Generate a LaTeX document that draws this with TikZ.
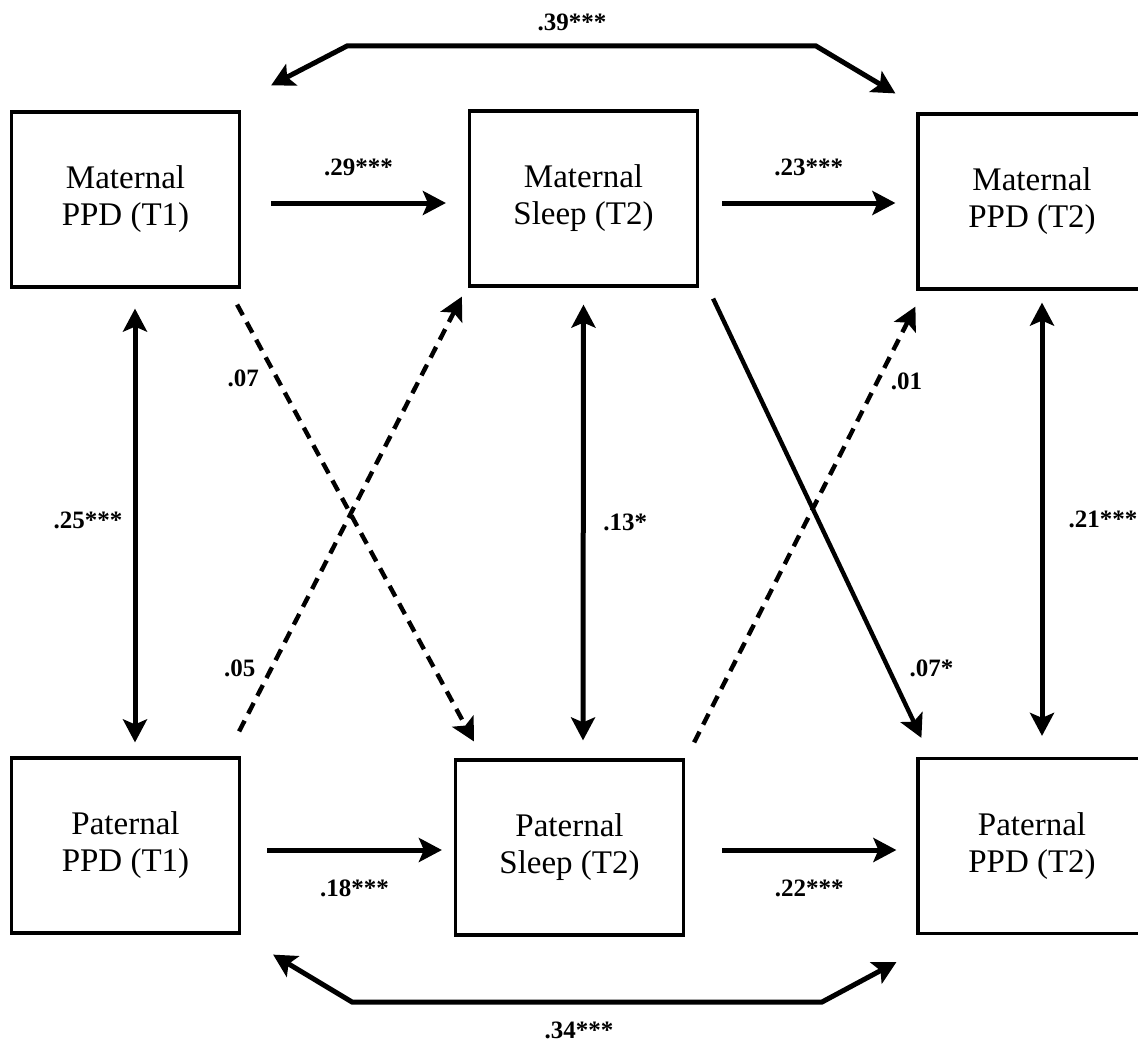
\documentclass[tikz,border=0pt]{standalone}
\usepackage{fontspec}
\setmainfont{Liberation Serif}
\usetikzlibrary{arrows.meta}

\tikzset{
  var/.style={draw, line width=1.6pt, minimum width=114pt, minimum height=87.5pt,
    inner sep=0pt, align=center, font=\fontsize{16.5}{18.5}\selectfont},
  coef/.style={font=\bfseries\fontsize{12.5}{14}\selectfont},
  link/.style={line width=2.5pt},
  cross/.style={line width=2.2pt},
  ns/.style={dash pattern=on 6pt off 4pt}
}

\begin{document}
\begin{tikzpicture}[x=0.5pt, y=-0.5pt, >={Stealth[length=11.5pt,width=12pt,inset=2.5pt]}]
\path[use as bounding box, clip] (0,0) rectangle (1138,1043);

\node[var] (mp1) at (125.5,199.5) {Maternal\\PPD (T1)};
\node[var] (ms) at (583.5,198.5) {Maternal\\Sleep (T2)};
\node[var] (mp2) at (1032,201.5) {Maternal\\PPD (T2)};
\node[var] (pp1) at (125.5,845.5) {Paternal\\PPD (T1)};
\node[var] (ps) at (569.5,847.5) {Paternal\\Sleep (T2)};
\node[var] (pp2) at (1032,846) {Paternal\\PPD (T2)};

\coordinate (tl) at (347,46);
\coordinate (tr) at (816,46);
\coordinate (bl) at (352,1002);
\coordinate (br) at (822,1002);

% stability and mediation paths
\draw[->, link] ([shift={(30,3.5)}]mp1.east) -- node[coef, yshift=18pt] {.29***} ([shift={(-22,4.5)}]ms.west);
\draw[->, link] ([shift={(23,4.5)}]ms.east) -- node[coef, yshift=18pt] {.23***} ([shift={(-21,1.5)}]mp2.west);
\draw[->, link] ([shift={(26,4.5)}]pp1.east) -- node[coef, yshift=-19pt] {.18***} ([shift={(-12,2.5)}]ps.west);
\draw[->, link] ([shift={(37,2.5)}]ps.east) -- node[coef, yshift=-19pt] {.22***} ([shift={(-20,4)}]pp2.west);

% covariances
\draw[<->, link] ([shift={(9.5,20)}]mp1.south) -- node[coef, xshift=-23.5pt, yshift=2.5pt] {.25***} ([shift={(9.5,-14)}]pp1.north);
\draw[<->, link] ([shift={(0,17)}]ms.south) -- node[coef, xshift=21pt] {.13*} ([shift={(13.5,-18)}]ps.north);
\draw[<->, link] ([shift={(10,12)}]mp2.south) -- node[coef, xshift=30.5pt] {.21***} ([shift={(10,-21)}]pp2.north);
\draw[<->, link] ([shift={(30,-25)}]mp1.north east) -- (tl) -- node[coef, xshift=-4.75pt, yshift=12pt] {.39***} (tr) -- ([shift={(-21,-19)}]mp2.north west);
\draw[<->, link] ([shift={(32,20)}]pp1.south east) -- (bl) -- node[coef, xshift=-4pt, yshift=-14pt] {.34***} (br) -- ([shift={(-20,27)}]pp2.south west);

% cross-partner paths
\draw[->, cross, ns] ([shift={(-4,16)}]mp1.south east) -- node[coef, pos=0.17, xshift=-17pt] {.07} ([shift={(20,-17)}]ps.north west);
\draw[->, cross, ns] ([shift={(-2,-25)}]pp1.north east) -- node[coef, pos=0.144, xshift=-15.75pt] {.05} ([shift={(-6,9)}]ms.south west);
\draw[->, cross, ns] ([shift={(9,-16)}]ps.north east) -- node[coef, pos=0.829, xshift=14.5pt] {.01} ([shift={(-1,16)}]mp2.south west);
\draw[->, cross] ([shift={(14,11)}]ms.south east) -- node[coef, pos=0.842, xshift=21.5pt] {.07*} ([shift={(5,-19)}]pp2.north west);
\end{tikzpicture}
\end{document}
